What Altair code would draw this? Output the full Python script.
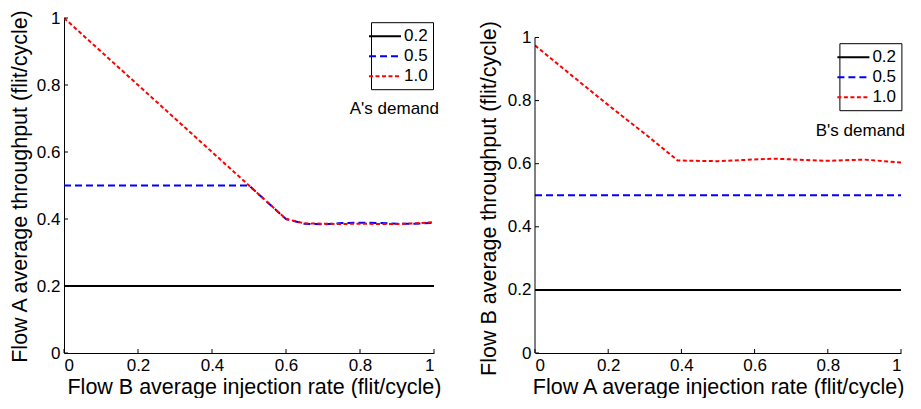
import altair as alt
import pandas as pd

# ---------------- data ----------------
demand_levels = ["0.2", "0.5", "1.0"]
line_colors = ["#000000", "#0000ff", "#ff0000"]
line_dashes = [[1, 0], [7, 4], [4, 2.5]]
tick_values = [0, 0.2, 0.4, 0.6, 0.8, 1]

# Left panel: Flow A throughput vs Flow B injection rate
a_x = [0.0, 0.05, 0.1, 0.15, 0.2, 0.25, 0.3, 0.35, 0.4, 0.45, 0.5,
       0.55, 0.6, 0.65, 0.7, 0.75, 0.8, 0.85, 0.9, 0.95, 1.0]
a_02 = [0.2, 0.2, 0.2, 0.2, 0.2, 0.2, 0.2, 0.2, 0.2, 0.2, 0.2,
        0.2, 0.2, 0.2, 0.2, 0.2, 0.2, 0.2, 0.2, 0.2, 0.2]
a_05 = [0.5, 0.5, 0.5, 0.5, 0.5, 0.5, 0.5, 0.5, 0.5, 0.5, 0.5,
        0.45, 0.4, 0.386, 0.384, 0.388, 0.389, 0.388, 0.386, 0.386, 0.388]
a_10 = [1.0, 0.95, 0.9, 0.85, 0.8, 0.75, 0.7, 0.65, 0.6, 0.55, 0.5,
        0.45, 0.4, 0.387, 0.386, 0.385, 0.386, 0.385, 0.385, 0.387, 0.391]

# Right panel: Flow B throughput vs Flow A injection rate
b_x = [0.0, 0.1, 0.2, 0.3, 0.39, 0.5, 0.65, 0.8, 0.9, 1.0]
b_02 = [0.2, 0.2, 0.2, 0.2, 0.2, 0.2, 0.2, 0.2, 0.2, 0.2]
b_05 = [0.5, 0.5, 0.5, 0.5, 0.5, 0.5, 0.5, 0.5, 0.5, 0.5]
b_10 = [0.975, 0.88, 0.786, 0.695, 0.61, 0.608, 0.616, 0.609, 0.613, 0.604]

FONT = "Liberation Sans"
W_LEFT, W_RIGHT, H = 370, 366, 335
H_TOP = 19.5  # extra room above value 1 in the right panel


def panel(xs, s02, s05, s10, xtitle, ytitle, note, note_y, note_dx, ymax,
          width, legend_xy, title_x, title_y, xtitle_end):
    rows = []
    for lvl, ser in zip(demand_levels, [s02, s05, s10]):
        for xv, yv in zip(xs, ser):
            rows.append({"x": xv, "y": yv, "demand": lvl})
    df = pd.DataFrame(rows)

    xscale = alt.Scale(domain=[0, 1], nice=False, zero=False)
    yscale = alt.Scale(domain=[0, ymax], nice=False, zero=False)
    leg = alt.Legend(
        title=None, orient="none", legendX=legend_xy[0], legendY=legend_xy[1],
        symbolType="M-2,0H2", symbolSize=256, symbolStrokeWidth=2,
        labelFontSize=17, labelFont=FONT, labelColor="black", labelOffset=10,
        strokeColor="black", fillColor="white", padding=5, rowPadding=3,
    )
    lines = alt.Chart(df).mark_line(strokeWidth=2, clip=True).encode(
        x=alt.X("x:Q", scale=xscale,
                axis=alt.Axis(values=tick_values, format="~g", title=xtitle,
                              labelPadding=4, titlePadding=3,
                              titleAnchor="end", titleAlign="right",
                              titleX=xtitle_end)),
        y=alt.Y("y:Q", scale=yscale,
                axis=alt.Axis(values=tick_values, format="~g", title=ytitle,
                              domain=(ymax == 1), titleX=title_x,
                              titleY=title_y, titleBaseline="bottom")),
        color=alt.Color("demand:N",
                        scale=alt.Scale(domain=demand_levels, range=line_colors),
                        legend=leg),
        strokeDash=alt.StrokeDash("demand:N",
                                  scale=alt.Scale(domain=demand_levels,
                                                  range=line_dashes),
                                  legend=leg),
        order=alt.Order("demand:N"),
    )
    tick_df = pd.DataFrame({"v": tick_values})
    xticks = alt.Chart(tick_df).mark_rule(color="black", strokeWidth=1).encode(
        x="v:Q", y=alt.value(H), y2=alt.value(H - 4))
    yticks = alt.Chart(tick_df).mark_rule(color="black", strokeWidth=1).encode(
        y="v:Q", x=alt.value(0), x2=alt.value(4))
    yaxis_df = pd.DataFrame({"x": [0], "y": [0], "y2": [1]})
    yaxis_line = alt.Chart(yaxis_df).mark_rule(color="black", strokeWidth=1).encode(
        x="x:Q", y="y:Q", y2="y2:Q")
    note_df = pd.DataFrame({"x": [1.0], "y": [note_y], "t": [note]})
    note_mark = alt.Chart(note_df).mark_text(
        font=FONT, fontSize=17, color="black", align="right",
        dx=note_dx).encode(x="x:Q", y="y:Q", text="t:N")
    layers = [lines, xticks, yticks, note_mark]
    if ymax != 1:
        layers.append(yaxis_line)
    return alt.layer(*layers).properties(width=width, height=H)


left = panel(a_x, a_02, a_05, a_10,
             "Flow B average injection rate (flit/cycle)",
             "Flow A average throughput (flit/cycle)",
             "A's demand", 0.727, 5, 1.0, W_LEFT, (307, 4.2), -33, 168, 377)
right = panel(b_x, b_02, b_05, b_10,
              "Flow A average injection rate (flit/cycle)",
              "Flow B average throughput (flit/cycle)",
              "B's demand", 0.705, 4, H / (H - H_TOP), W_RIGHT,
              (304.4, 25.2), -35, 180, 369)

chart = alt.hconcat(left, right, spacing=37).resolve_scale(
    color="independent", strokeDash="independent"
).resolve_legend(color="independent", strokeDash="independent").configure(
    font=FONT, padding={"left": 1, "top": 0, "right": 0, "bottom": 0}
).configure_axis(
    labelFont=FONT, titleFont=FONT, labelFontSize=17, titleFontSize=21.5,
    labelColor="black", titleColor="black", titleFontWeight="normal",
    domainColor="black", domainWidth=1, grid=False, ticks=False, tickSize=0,
    labelPadding=4, titlePadding=5,
).configure_view(stroke=None)

chart.save("out.html", embed_options={"renderer": "svg", "actions": False})
